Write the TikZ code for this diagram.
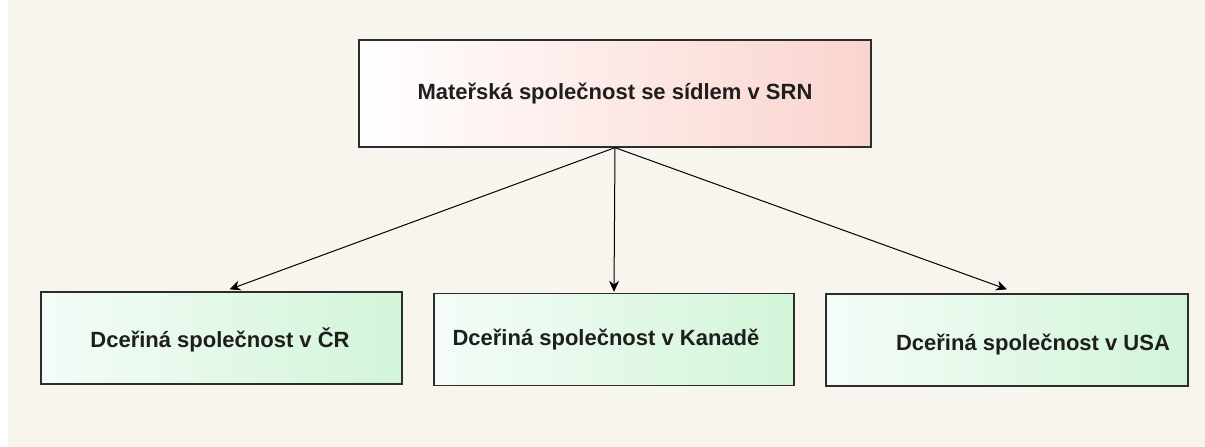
\documentclass[tikz,border=0pt]{standalone}
\usepackage{fontspec}
\setmainfont{Liberation Sans}
\usetikzlibrary{arrows.meta}
\definecolor{bg}{RGB}{248,245,239}
\definecolor{pinkR}{RGB}{250,212,206}
\definecolor{greenR}{RGB}{210,245,216}
\definecolor{greenL}{RGB}{244,252,248}
\definecolor{frame}{RGB}{45,45,45}
\definecolor{txt}{RGB}{30,30,30}
\begin{document}
\begin{tikzpicture}[x=1pt,y=-1pt,
  box/.style={draw=frame, line width=1.3pt, inner sep=0pt},
  parent/.style={box, left color=white, right color=pinkR, minimum width=512pt, minimum height=107pt},
  child/.style={box, left color=greenL, right color=greenR, minimum height=92pt},
  lbl/.style={inner sep=0pt, font=\fontsize{22}{26}\selectfont\bfseries, text=txt},
  link/.style={-{Stealth[length=11pt,width=10pt]}, line width=1pt}]
\fill[white] (0,0) rectangle (1205,447);
\fill[bg] (8,0) rectangle (1205,447);
\useasboundingbox (0,0) rectangle (1205,447);
\node[parent] (p) at (615,93.5) {};
\node[lbl] (tp) at (p.center) {Mateřská společnost se sídlem v SRN};
\node[child, minimum width=361pt] (c1) at (221.5,338) {};
\node[child, minimum width=360pt] (c2) at (614,339.5) {};
\node[child, minimum width=362pt] (c3) at (1007,340) {};
\node[lbl] (t1) at (220,340) {Dceřiná společnost v ČR};
\node[lbl] (t2) at (606,340) {Dceřiná společnost v Kanadě};
\node[lbl] (t3) at (1033,345) {Dceřiná společnost v USA};
\draw[link] (p.south) -- ([xshift=8pt,yshift=2pt]c1.north);
\draw[link] (p.south) -- ([yshift=1pt]c2.north);
\draw[link] (p.south) -- ([yshift=4pt]c3.north);
\end{tikzpicture}
\end{document}
